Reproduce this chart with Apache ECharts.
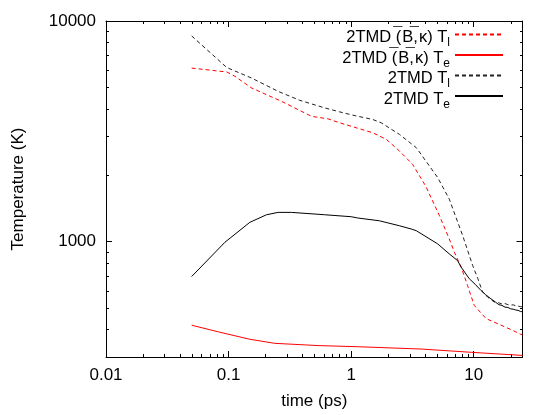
<!DOCTYPE html>
<html><head><meta charset="utf-8">
<script src="https://cdn.jsdelivr.net/npm/echarts@6/dist/echarts.min.js"></script>
<style>html,body{margin:0;padding:0;background:#fff}#c{width:554px;height:415px}</style>
</head><body><div id="c"></div>
<script>
const FONT = '"Liberation Sans", Arial, "DejaVu Sans", sans-serif';
const TICKC = '#000000';

const seriesNames = ['2TMD (B,\u03BA) Tl', '2TMD (B,\u03BA) Te', '2TMD Tl', '2TMD Te'];

// 2TMD (B,k) T_l  (red dashed)
const bkTlX = [0.05, 0.097, 0.113, 0.154, 0.27, 0.474, 0.647, 0.807, 1.1, 1.5, 1.94, 2.48, 3.17, 4.05, 5.26, 6.32, 6.95, 7.9, 8.9, 10.1, 12.6, 16.7, 20, 25];
const bkTlY = [6117, 5873, 5610, 4971, 4326, 3699, 3603, 3456, 3281, 3116, 2904, 2574, 2241, 1789, 1309, 1028, 896, 766, 633, 514, 448, 418, 400, 377];
// 2TMD (B,k) T_e  (red solid)
const bkTeX = [0.05, 0.0825, 0.149, 0.238, 0.537, 1.13, 3.72, 9.6, 25];
const bkTeY = [418, 390, 361, 346, 338, 334, 326, 315, 305];
// 2TMD T_l  (black dashed)
const tlX = [0.05, 0.0966, 0.154, 0.254, 0.381, 0.608, 0.807, 1.03, 1.5, 1.76, 2.48, 3.4, 5.08, 6.32, 8.13, 9.8, 10.8, 11.8, 13, 14.7, 16, 17, 18, 19, 20, 21, 22, 23, 24, 25];
const tlY = [8557, 6155, 5514, 4797, 4370, 4038, 3873, 3743, 3578, 3456, 3061, 2666, 1952, 1558, 1064, 780, 680, 592, 560, 533, 528, 522, 524, 518, 516, 517, 512, 510, 508, 506];
// 2TMD T_e  (black solid)
const teX = [0.05, 0.0935, 0.149, 0.204, 0.254, 0.325, 0.608, 1, 1.13, 1.7, 2.48, 3.09, 3.4, 5.08, 6.32, 7.39, 7.9, 9.2, 10.3, 11.46, 12.5, 13.8, 15, 16, 17, 18, 19, 20, 21, 22, 23, 24, 25];
const teY = [695, 994, 1223, 1324, 1357, 1357, 1324, 1297, 1280, 1243, 1180, 1141, 1121, 977, 880, 820, 766, 679, 640, 601, 575, 551, 533, 518, 514, 505, 503, 496, 494, 490, 488, 483, 480];

// minor tick positions
const xMinorTicks = [0.02,0.03,0.04,0.05,0.06,0.07,0.08,0.09, 0.2,0.3,0.4,0.5,0.6,0.7,0.8,0.9, 2,3,4,5,6,7,8,9, 20];
const yMinorTicks = [400,500,600,700,800,900, 2000,3000,4000,5000,6000,7000,8000,9000];

const zip = (xs, ys) => xs.map((x, i) => [x, ys[i]]);

function majorFmt(v) {
  const l = Math.log10(v);
  if (Math.abs(l - Math.round(l)) > 1e-6) return '';
  return String(Math.pow(10, Math.round(l)));
}

function axisCommon() {
  return {
    axisLine: { show: true, onZero: false, lineStyle: { color: '#000', width: 1 } },
    axisTick: { show: true, inside: true, length: 6, lineStyle: { color: TICKC, width: 1 } },
    splitLine: { show: false },
    minorTick: { show: false },
    minorSplitLine: { show: false }
  };
}
const labelStyle = () => ({ color: '#000', fontSize: 17, fontFamily: FONT });

const chart = echarts.init(document.getElementById('c'));

function lineSeries(name, data, color, dashed) {
  return {
    name, type: 'line', data, symbol: 'none', showSymbol: false,
    xAxisIndex: 0, yAxisIndex: 0,
    lineStyle: { color, width: 1, type: dashed ? [4, 3] : 'solid' },
    itemStyle: { color },
    emphasis: { disabled: true }
  };
}

function minorSeries(data, isX) {
  return {
    type: 'custom', coordinateSystem: 'cartesian2d', silent: true,
    xAxisIndex: 0, yAxisIndex: 0,
    data: data,
    renderItem: (params, api) => {
      const cs = params.coordSys;
      const p = api.coord([api.value(0), api.value(1)]);
      const st = { stroke: TICKC, lineWidth: 1 };
      if (isX) {
        const x = Math.round(p[0]) + 0.5;
        const b = Math.round(cs.y + cs.height), t = Math.round(cs.y);
        return { type: 'group', children: [
          { type: 'line', shape: { x1: x, y1: b, x2: x, y2: b - 3 }, style: st },
          { type: 'line', shape: { x1: x, y1: t, x2: x, y2: t + 3 }, style: st }
        ] };
      }
      const y = Math.round(p[1]) + 0.5;
      const l = Math.round(cs.x), r = Math.round(cs.x + cs.width);
      return { type: 'group', children: [
        { type: 'line', shape: { x1: l, y1: y, x2: l + 3, y2: y }, style: st },
        { type: 'line', shape: { x1: r, y1: y, x2: r - 3, y2: y }, style: st }
      ] };
    }
  };
}

chart.setOption({
  animation: false,
  backgroundColor: '#fff',
  grid: { left: 106, right: 31.5, top: 21, bottom: 56 },
  xAxis: [
    Object.assign(axisCommon(), {
      type: 'log', logBase: 10, min: 0.01, max: 25, position: 'bottom',
      axisLabel: Object.assign({ show: true, margin: 10, formatter: majorFmt }, labelStyle()),
      name: 'time (ps)', nameLocation: 'middle', nameGap: 36, nameTextStyle: labelStyle()
    }),
    Object.assign(axisCommon(), {
      type: 'log', logBase: 10, min: 0.01, max: 25, position: 'top', axisLabel: { show: false }
    })
  ],
  yAxis: [
    Object.assign(axisCommon(), {
      type: 'log', logBase: 10, min: 300, max: 10000, position: 'left',
      axisLabel: Object.assign({ show: true, margin: 10, formatter: majorFmt }, labelStyle()),
      name: 'Temperature (K)', nameLocation: 'middle', nameGap: 79, nameRotate: 90, nameTextStyle: labelStyle()
    }),
    Object.assign(axisCommon(), {
      type: 'log', logBase: 10, min: 300, max: 10000, position: 'right', axisLabel: { show: false }
    })
  ],
  legend: {
    data: seriesNames,
    orient: 'vertical', align: 'right',
    right: 50, top: 26, padding: 0,
    itemWidth: 48, itemHeight: 10, itemGap: -2.5,
    selectedMode: false,
    itemStyle: { opacity: 0, borderWidth: 0 },
    formatter: name => {
      const m = name.match(/^(.*\()B,\u03BA(\) T)([le])$/);
      if (m) return '{m|' + m[1] + '}{o|\u2009\u00AF}{m|B,}{o|\u2009\u00AF}{m|\u03BA' + m[2] + '}{s|' + m[3] + '}';
      const k = name.match(/^(.*T)([le])$/);
      return '{m|' + k[1] + '}{s|' + k[2] + '}';
    },
    textStyle: {
      color: '#000', fontFamily: FONT, fontSize: 16.5,
      rich: {
        m: { fontSize: 16.5, fontFamily: FONT, color: '#000', lineHeight: 17, verticalAlign: 'top', padding: [3, 0, 0, 0] },
        o: { fontSize: 16.5, fontFamily: FONT, color: '#000', lineHeight: 17, verticalAlign: 'top', width: 1 },
        s: { fontSize: 12, fontFamily: FONT, color: '#000', lineHeight: 12, verticalAlign: 'top', padding: [11, 0, 0, 0] }
      }
    }
  },
  series: [
    lineSeries(seriesNames[0], zip(bkTlX, bkTlY), '#ff0000', true),
    lineSeries(seriesNames[1], zip(bkTeX, bkTeY), '#ff0000', false),
    lineSeries(seriesNames[2], zip(tlX, tlY), '#222222', true),
    lineSeries(seriesNames[3], zip(teX, teY), '#000000', false),
    minorSeries(xMinorTicks.map(v => [v, 1000]), true),
    minorSeries(yMinorTicks.map(v => [1, v]), false)
  ]
});
</script>
</body></html>
